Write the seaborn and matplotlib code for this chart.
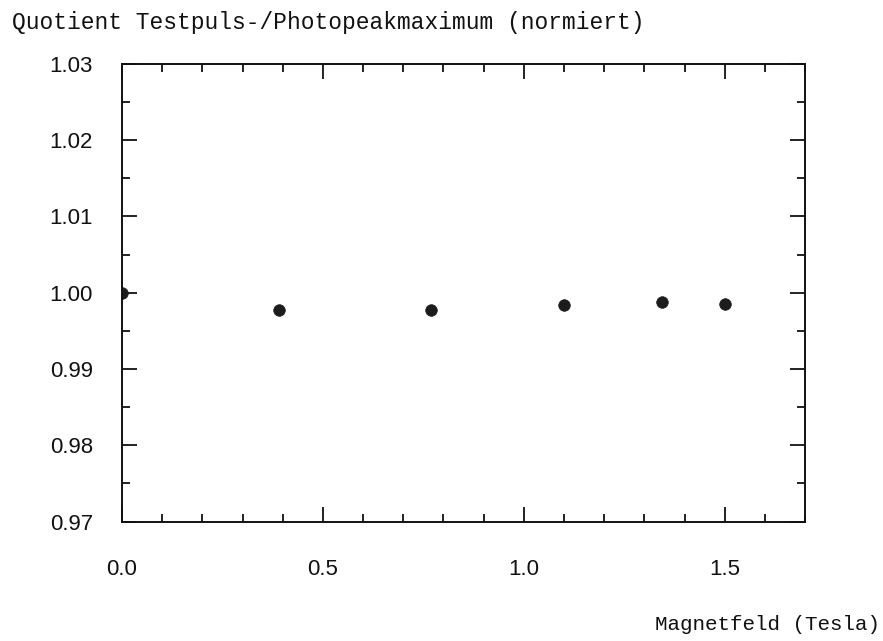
import matplotlib
matplotlib.use("Agg")
import matplotlib.pyplot as plt
from matplotlib.ticker import MultipleLocator, FormatStrFormatter
import seaborn as sns
import pandas as pd

# Measured ratio of test pulse maximum to photopeak maximum (normalised)
magnetfeld = [0.0, 0.39, 0.77, 1.10, 1.345, 1.50]
quotient = [1.0000, 0.9978, 0.9978, 0.9984, 0.9988, 0.9985]

x_ticks = [0.0, 0.5, 1.0, 1.5]
y_ticks = [0.97, 0.98, 0.99, 1.00, 1.01, 1.02, 1.03]

df = pd.DataFrame({"B": magnetfeld, "Q": quotient})

sns.set_style("ticks")
plt.rcParams["font.family"] = ["Liberation Sans", "DejaVu Sans"]

fig = plt.figure(figsize=(8.83, 6.41), dpi=100)
ax = fig.add_axes([0.1382, 0.1864, 0.7735, 0.7138])

sns.scatterplot(data=df, x="B", y="Q", ax=ax, s=70, color="#1c1c1c",
                edgecolor="#1c1c1c", linewidth=0.5, legend=False)

ax.set_xlim(0.0, 1.7)
ax.set_ylim(0.97, 1.03)
ax.set_xticks(x_ticks)
ax.set_yticks(y_ticks)
ax.xaxis.set_minor_locator(MultipleLocator(0.1))
ax.yaxis.set_minor_locator(MultipleLocator(0.005))
ax.xaxis.set_major_formatter(FormatStrFormatter("%.1f"))
ax.yaxis.set_major_formatter(FormatStrFormatter("%.2f"))

for side in ["left", "right", "top", "bottom"]:
    ax.spines[side].set_visible(True)
    ax.spines[side].set_linewidth(1.4)
    ax.spines[side].set_color("#111111")

ax.tick_params(which="both", direction="in", top=True, right=True,
               color="#111111", width=1.3, labelcolor="#111111")
ax.tick_params(which="major", length=11)
ax.tick_params(which="minor", length=5.5)
ax.tick_params(axis="x", which="major", pad=27, labelsize=16)
ax.tick_params(axis="y", which="major", pad=21, labelsize=16)

ax.set_xlabel("")
ax.set_ylabel("")

mono = ["Liberation Mono", "DejaVu Sans Mono"]
fig.text(12 / 883, 1 - 22 / 641, "Quotient Testpuls-/Photopeakmaximum (normiert)",
         family=mono, fontsize=16.5, ha="left", va="center", color="#111111")
fig.text(880 / 883, 1 - 625 / 641, "Magnetfeld (Tesla)",
         family=mono, fontsize=15, ha="right", va="center", color="#111111")

fig.savefig("out.png", dpi=100)
